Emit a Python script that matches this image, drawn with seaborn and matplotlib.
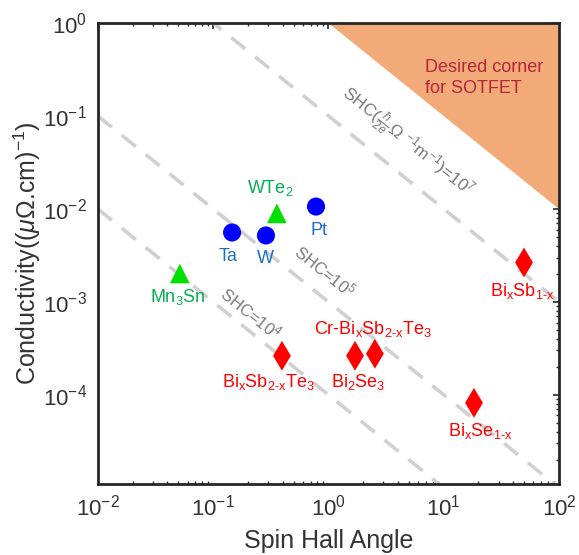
import numpy as np
import pandas as pd
import matplotlib
matplotlib.use("Agg")
import matplotlib.pyplot as plt
import seaborn as sns

# ---- data ----
materials = ["Ta", "W", "Pt", "WTe$_2$", "Mn$_3$Sn",
             "Bi$_\\mathrm{x}$Sb$_\\mathrm{2\u2010x}$Te$_3$", "Bi$_2$Se$_3$",
             "Cr\u2010Bi$_\\mathrm{x}$Sb$_\\mathrm{2\u2010x}$Te$_3$",
             "Bi$_\\mathrm{x}$Se$_\\mathrm{1\u2010x}$", "Bi$_\\mathrm{x}$Sb$_\\mathrm{1\u2010x}$"]
groups = ["metal", "metal", "metal", "semimetal", "semimetal",
          "ti", "ti", "ti", "ti", "ti"]
spin_hall_angle = [0.146, 0.287, 0.78, 0.357, 0.0514, 0.395, 1.70, 2.53, 18.3, 49.7]
conductivity = [0.00558, 0.00518, 0.0106, 0.00895, 0.00202, 2.63e-4, 2.63e-4, 2.77e-4, 8.2e-5, 2.65e-3]
shc_levels = [1e4, 1e5, 1e7]
shc_corner = 1e8
unit_factor = 1e8  # (uOhm cm)^-1 -> Ohm^-1 m^-1
x_ticks = [1e-2, 1e-1, 1e0, 1e1, 1e2]
y_ticks = [1e-4, 1e-3, 1e-2, 1e-1, 1e0]

df = pd.DataFrame({"material": materials, "group": groups,
                   "sha": spin_hall_angle, "sigma": conductivity})

sns.set_style("white")
plt.rcParams["font.family"] = ["Liberation Sans", "DejaVu Sans"]
plt.rcParams["mathtext.fontset"] = "custom"
plt.rcParams["mathtext.rm"] = "Liberation Sans"
plt.rcParams["mathtext.it"] = "Liberation Sans:italic"
plt.rcParams["mathtext.sf"] = "Liberation Sans"

fig = plt.figure(figsize=(5.79, 5.55), dpi=100)
ax = fig.add_axes([0.169, 0.128, 0.7965, 0.8306])
ax.set_xscale("log")
ax.set_yscale("log")
xmin, xmax = 1e-2, 1e2
ymin, ymax = 1.1e-5, 1.0
ax.set_xlim(xmin, xmax)
ax.set_ylim(ymin, ymax)

# desired corner
xc = np.logspace(np.log10(shc_corner / unit_factor / ymax), np.log10(xmax), 100)
ax.fill_between(xc, shc_corner / unit_factor / xc, ymax, color="#F2AA78", lw=0, zorder=1)

# SHC iso-lines
xl = np.logspace(-2, 2, 200)
for s in shc_levels:
    sns.lineplot(x=xl, y=s / unit_factor / xl, ax=ax, color="#D0D0D0", lw=2.6,
                 linestyle=(0, (5, 3.5)), zorder=2)

palette = {"metal": "#0000FF", "semimetal": "#00E000", "ti": "#FF0000"}
markers = {"metal": "o", "semimetal": "^", "ti": "d"}
sizes = {"metal": 170, "semimetal": 200, "ti": 230}
sns.scatterplot(data=df, x="sha", y="sigma", hue="group", style="group", size="group",
                palette=palette, markers=markers, sizes=sizes, edgecolor="none",
                legend=False, ax=ax, zorder=3)

text_colors = {"metal": "#1C6EC8", "semimetal": "#00B050", "ti": "#FF0000"}
offsets = [(-4, -24), (-1, -23), (3, -24), (-7, 25), (-2, -24),
           (-14, -26), (3, -26), (-2, 25), (6, -28), (-2, -28)]
for (m, g, xv, yv), off in zip(zip(materials, groups, spin_hall_angle, conductivity), offsets):
    ax.annotate(m, (xv, yv), xytext=(off[0], off[1]), textcoords="offset pixels",
                ha="center", va="center", fontsize=13, color=text_colors[g], zorder=4)

rot = -38.8
ax.text(0.2126, 7.66e-4, "SHC=10$^4$", rotation=rot, ha="center", va="center",
        fontsize=12, color="#7A7A7A", rotation_mode="anchor")
ax.text(0.932, 2.17e-3, "SHC=10$^5$", rotation=rot, ha="center", va="center",
        fontsize=12, color="#7A7A7A", rotation_mode="anchor")
ax.text(4.80, 0.0521, r"SHC($\frac{\hbar}{2e}\Omega$ $^{-1}$m$^{-1}$)=10$^7$", rotation=rot,
        ha="center", va="center", fontsize=12.5, color="#7A7A7A", rotation_mode="anchor")
ax.text(6.87, 0.255, "Desired corner\nfor SOTFET", ha="left", va="center",
        fontsize=13, color="#B5263A", linespacing=1.3)

ax.set_xticks(x_ticks)
ax.set_yticks(y_ticks)
ax.tick_params(axis="both", which="major", direction="in", length=4, width=1.2,
               labelsize=16, top=True, right=True, color="#262626", labelcolor="#333333", pad=8)
ax.tick_params(axis="x", which="minor", direction="in", length=2.5, width=1, top=True, bottom=True)
ax.tick_params(axis="y", which="minor", direction="in", length=2.5, width=1, left=False, right=True)
for sp in ax.spines.values():
    sp.set_linewidth(2.0)
    sp.set_color("#262626")

ax.set_xlabel("Spin Hall Angle", fontsize=18, color="#333333", labelpad=6)
ax.set_ylabel(r"Conductivity(($\mu\Omega$.cm)$^{-1}$)", fontsize=18, color="#333333", labelpad=0)

fig.savefig("out.png", dpi=100)
